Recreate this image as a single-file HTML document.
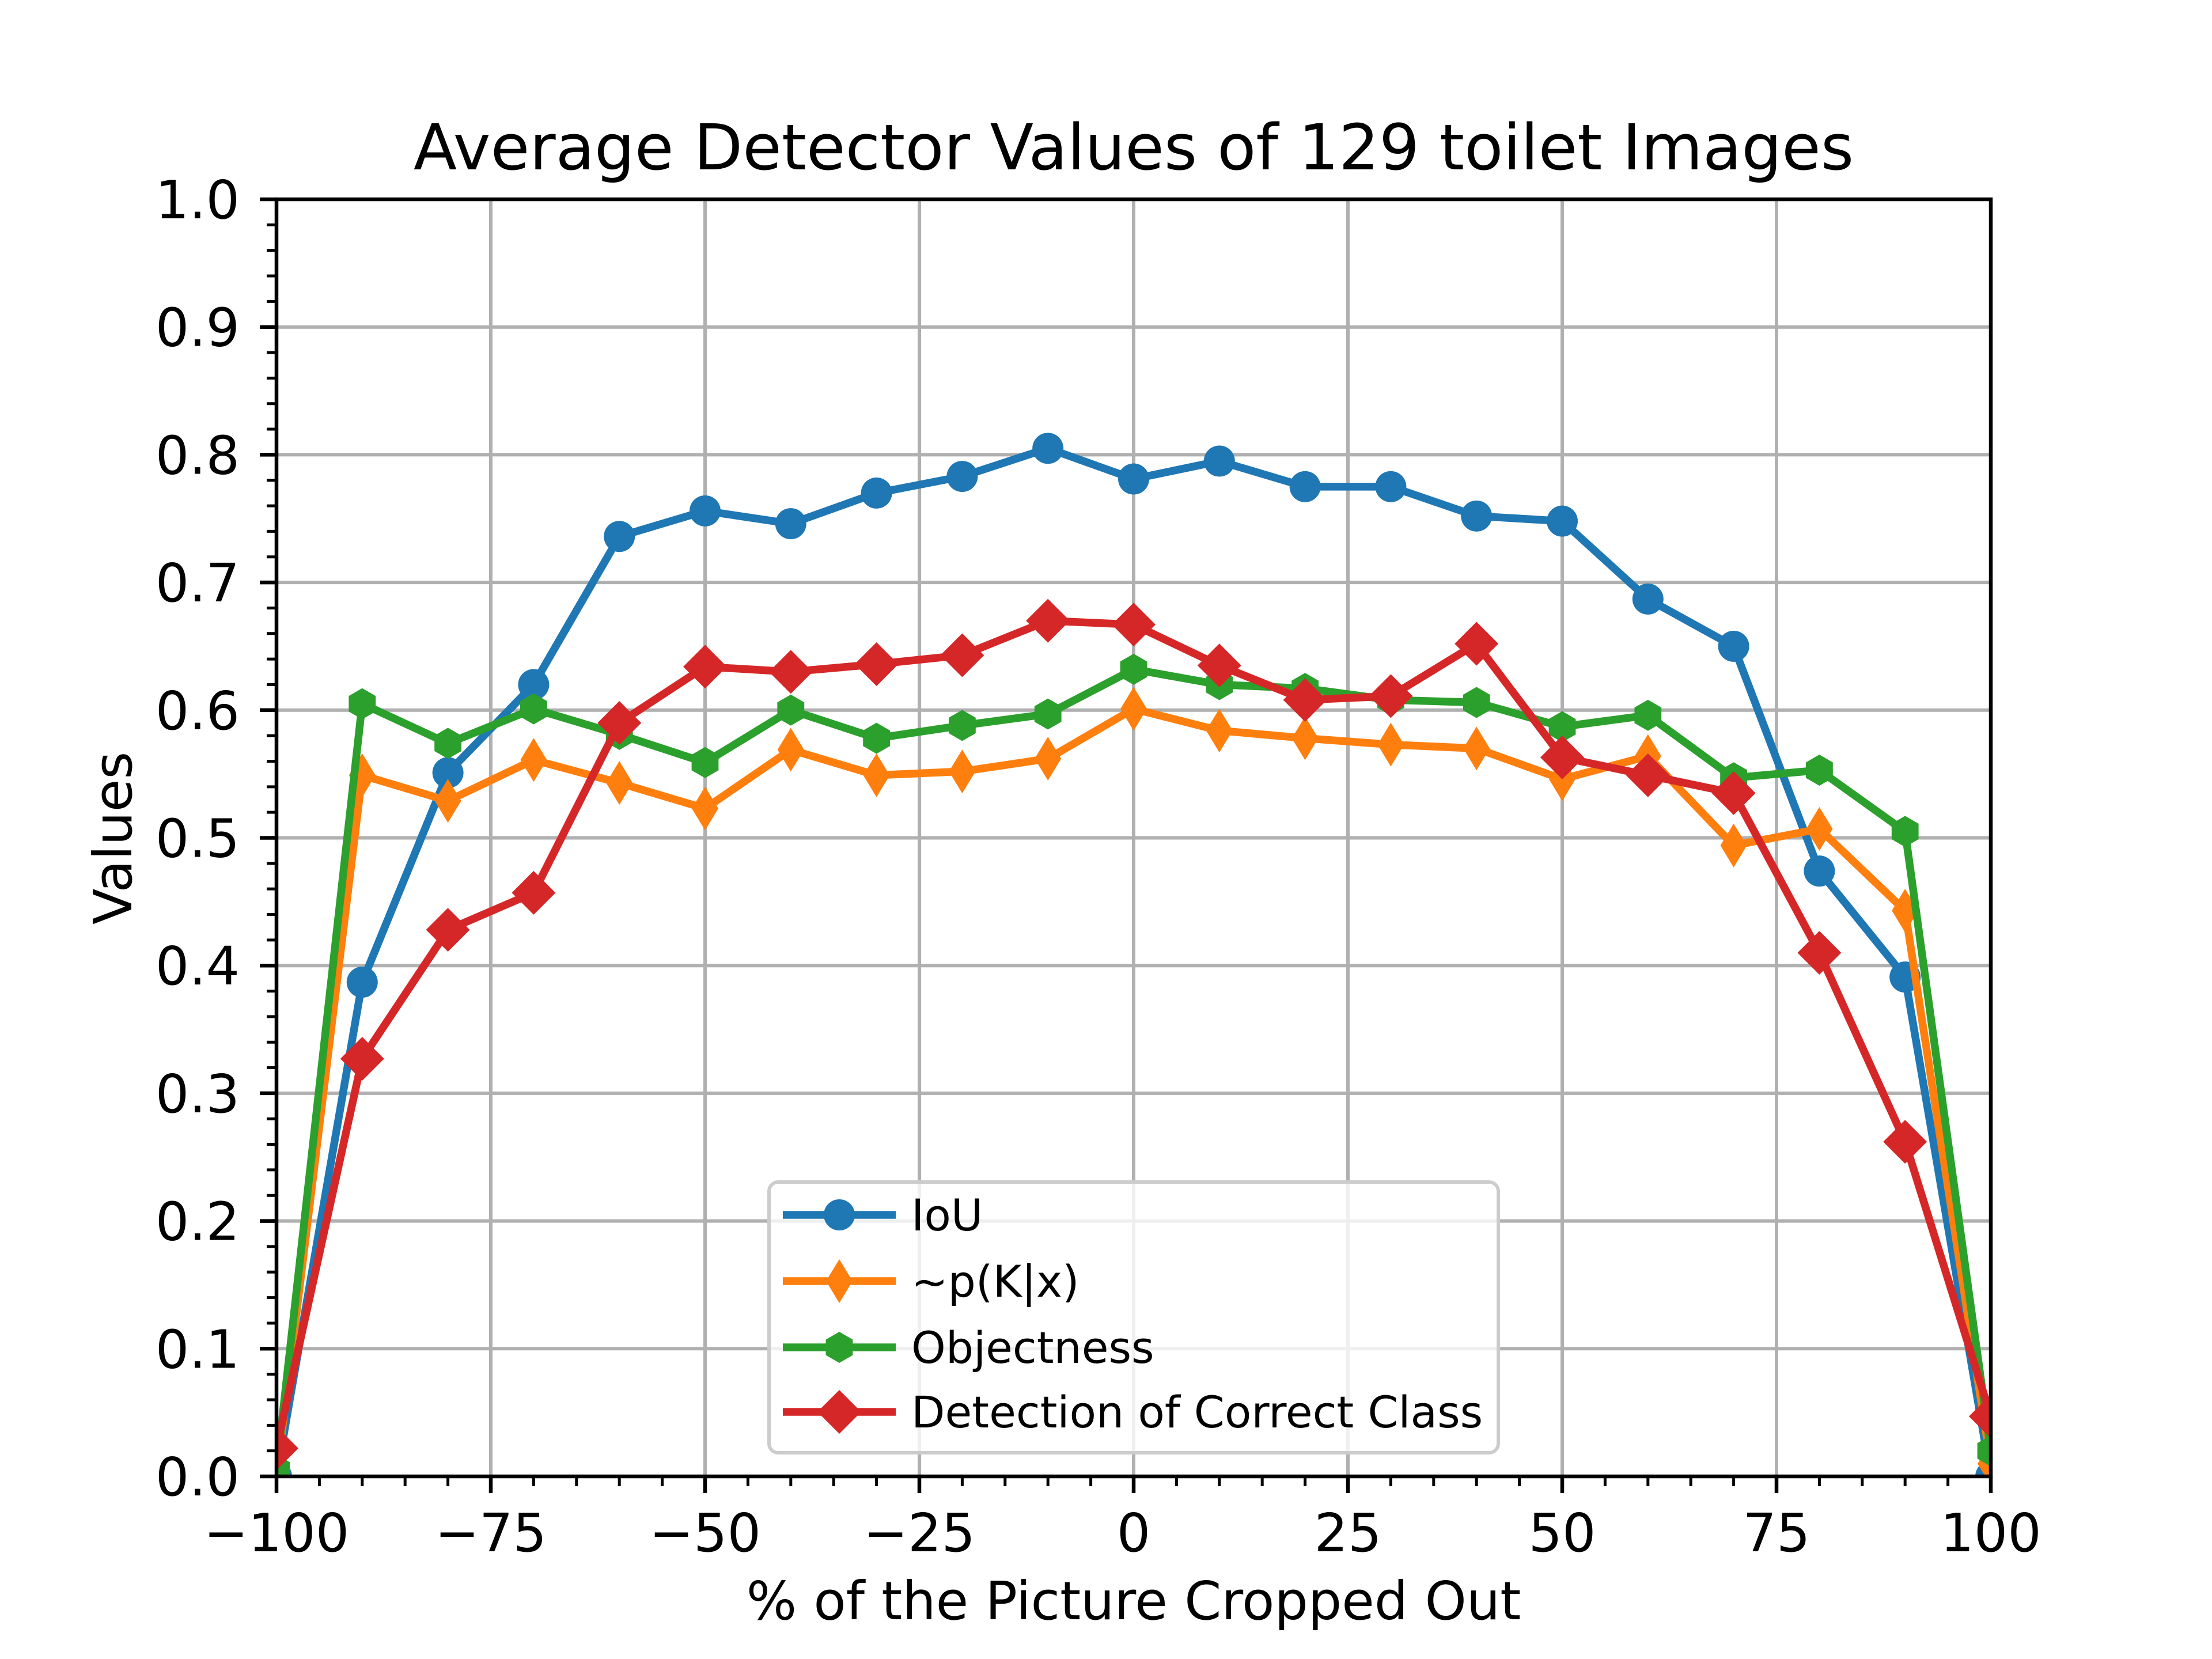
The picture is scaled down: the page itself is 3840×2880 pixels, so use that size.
<!DOCTYPE html>
<html><head><meta charset="utf-8"><style>
html,body{margin:0;padding:0;background:#fff}
svg{display:block;font-family:"DejaVu Sans","Liberation Sans",sans-serif}
</style></head><body>
<svg id="chart" width="3840" height="2880" viewBox="0 0 3840 2880" xmlns="http://www.w3.org/2000/svg">
<rect width="3840" height="2880" fill="#fff"/>
<defs><clipPath id="clip"><rect x="480" y="346" width="2976" height="2217"/></clipPath></defs>
<g id="grid"></g>
<g id="series" clip-path="url(#clip)"></g>
<g id="axes"></g>
<text x="1968" y="294" font-size="110" text-anchor="middle">Average Detector Values of 129 toilet Images</text>
<text x="1968" y="2811" font-size="92" text-anchor="middle">% of the Picture Cropped Out</text>
<text transform="translate(228,1455) rotate(-90)" font-size="92" text-anchor="middle">Values</text>
<g id="legend"></g>
</svg>
<script>
const xs = [-100,-90,-80,-70,-60,-50,-40,-30,-20,-10,0,10,20,30,40,50,60,70,80,90,100];
const iou = [0.0,0.387,0.551,0.620,0.736,0.756,0.746,0.770,0.783,0.805,0.781,0.795,0.775,0.775,0.752,0.748,0.687,0.650,0.474,0.391,0.0];
const pkx = [0.0,0.549,0.529,0.561,0.543,0.523,0.569,0.549,0.552,0.562,0.601,0.584,0.578,0.573,0.570,0.546,0.564,0.494,0.507,0.443,0.01];
const objectness = [0.005,0.605,0.574,0.601,0.581,0.559,0.600,0.578,0.588,0.597,0.632,0.620,0.617,0.608,0.606,0.587,0.596,0.547,0.553,0.505,0.020];
const detection = [0.022,0.327,0.428,0.457,0.590,0.634,0.630,0.636,0.643,0.670,0.667,0.635,0.608,0.611,0.652,0.563,0.549,0.535,0.410,0.262,0.047];
const xTicks = [-100,-75,-50,-25,0,25,50,75,100];
const xTickLabels = ["\u2212100","\u221275","\u221250","\u221225","0","25","50","75","100"];
const yTicks = [0,0.1,0.2,0.3,0.4,0.5,0.6,0.7,0.8,0.9,1.0];
const yTickLabels = ["0.0","0.1","0.2","0.3","0.4","0.5","0.6","0.7","0.8","0.9","1.0"];
const seriesNames = ["IoU","~p(K|x)","Objectness","Detection of Correct Class"];

const L=480,R=3456,T=346,B=2563;
const sx=v=>L+(v+100)/200*(R-L);
const sy=v=>B-v*(B-T);
const NS="http://www.w3.org/2000/svg";
function mk(tag,attrs,parent){const e=document.createElementNS(NS,tag);for(const k in attrs)e.setAttribute(k,attrs[k]);parent.appendChild(e);return e;}
const grid=document.getElementById('grid'),axes=document.getElementById('axes'),ser=document.getElementById('series'),leg=document.getElementById('legend');

xTicks.forEach((t,i)=>{
  const g=mk('line',{x1:sx(t),x2:sx(t),y1:T,y2:B,stroke:'#b0b0b0','stroke-width':6},grid);
  
  
  const tk=mk('line',{x1:sx(t),x2:sx(t),y1:B,y2:B+29,stroke:'#000','stroke-width':6.5},axes);
  
  
  const tx=mk('text',{x:sx(t),y:2693,'font-size':92,'text-anchor':'middle'},axes);
  tx.textContent=xTickLabels[i];
  
  
});
for(let v=-95;v<100;v+=5){ if(v%25===0) continue;
  const m=mk('line',{x1:sx(v),x2:sx(v),y1:B,y2:B+17,stroke:'#000','stroke-width':5},axes);
  
  
}
yTicks.forEach((t,i)=>{
  const g=mk('line',{x1:L,x2:R,y1:sy(t),y2:sy(t),stroke:'#b0b0b0','stroke-width':6},grid);
  
  
  const tk=mk('line',{x1:L-29,x2:L,y1:sy(t),y2:sy(t),stroke:'#000','stroke-width':6.5},axes);
  
  
  const tx=mk('text',{x:416,y:sy(t)+33,'font-size':92,'text-anchor':'end'},axes);
  tx.textContent=yTickLabels[i];
  
  
});
for(let k=1;k<50;k++){ if(k%5===0) continue;
  const m=mk('line',{x1:L-17,x2:L,y1:sy(k*0.02),y2:sy(k*0.02),stroke:'#000','stroke-width':5},axes);
  
  
}
const frame=mk('rect',{x:L,y:T,width:R-L,height:B-T,fill:'none',stroke:'#000','stroke-width':6.5},axes);



function marker(type,x,y,color,parent){
  let e;
  if(type==='o') e=mk('circle',{cx:x,cy:y,r:27,fill:color},parent);
  else if(type==='d') e=mk('polygon',{points:`${x},${y-38} ${x+23},${y} ${x},${y+38} ${x-23},${y}`,fill:color},parent);
  else if(type==='D') e=mk('polygon',{points:`${x},${y-38} ${x+38},${y} ${x},${y+38} ${x-38},${y}`,fill:color},parent);
  else { const pts=[];for(let k=0;k<6;k++){const a=Math.PI/2+k*Math.PI/3;pts.push((x+27*Math.cos(a)).toFixed(1)+','+(y-27*Math.sin(a)).toFixed(1));} e=mk('polygon',{points:pts.join(' '),fill:color},parent);}
  return e;
}
const all=[[iou,'#1f77b4','o','iou'],[pkx,'#ff7f0e','d','pkx'],[objectness,'#2ca02c','h','objectness'],[detection,'#d62728','D','detection']];
all.forEach(([vals,color,m,nm])=>{
  const g=mk('g',{},ser);
  
  
  const p=mk('polyline',{points:xs.map((x,i)=>sx(x)+','+sy(vals[i])).join(' '),fill:'none',stroke:color,'stroke-width':13.5,'stroke-linejoin':'round'},g);
  
  
  xs.forEach((x,i)=>{
    const mm=marker(m,sx(x),sy(vals[i]),color,g);
    
    
  });
});
// legend
const box=mk('rect',{x:1335,y:2052,width:1266,height:470,rx:16,fill:'#fff','fill-opacity':0.8,stroke:'#cccccc','stroke-width':6},leg);


const ly=[2109,2224,2339,2451];
all.forEach(([vals,color,m,nm],i)=>{
  const g=mk('g',{},leg);
  
  
  mk('line',{x1:1359,x2:1555,y1:ly[i],y2:ly[i],stroke:color,'stroke-width':13.5},g);
  marker(m,1457,ly[i],color,g);
  const t=mk('text',{x:1582,y:ly[i]+27,'font-size':76},g);
  t.textContent=seriesNames[i];
});
</script>
</body></html>
